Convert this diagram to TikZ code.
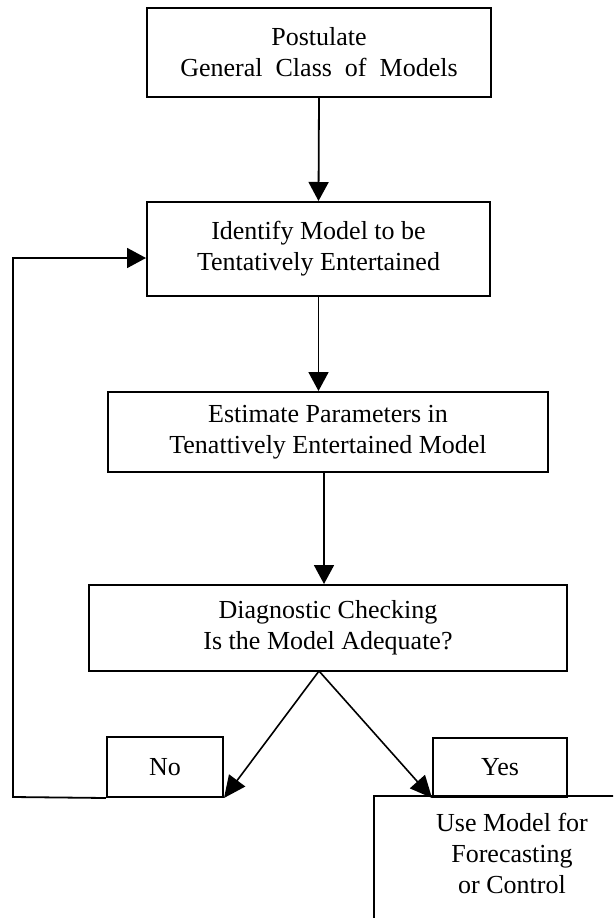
\documentclass[tikz,border=0pt]{standalone}
\usepackage{fontspec}
\setmainfont{Liberation Serif}
\usetikzlibrary{arrows.meta,calc}
\begin{document}
\begin{tikzpicture}[x=1pt,y=-1pt,
  box/.style={draw,line width=2pt,rectangle,inner sep=0pt,align=center,
    font=\fontsize{26}{31}\selectfont},
  conn/.style={line width=1.8pt},
  arr/.style={conn,-{Triangle[length=19pt,width=20pt]}},
  darr/.style={line width=1.6pt,-{Triangle[length=22pt,width=20pt]}}]
\useasboundingbox (0,0) rectangle (613,918);
\clip (0,0) rectangle (613,918);
\fill[white] (0,0) rectangle (613,918);

\node[box,minimum width=344pt,minimum height=89pt] (b1) at (319,52.5)
  {Postulate\\General\ \ Class\ \ of\ \ Models};
\node[box,minimum width=343pt,minimum height=94pt] (b2) at (318.5,249)
  {Identify Model to be\\Tentatively Entertained};
\node[box,minimum width=440pt,minimum height=80pt] (b3) at (328,432)
  {Estimate Parameters in\\Tenattively Entertained Model};
\node[box,minimum width=478pt,minimum height=86pt] (b4) at (328,628)
  {Diagnostic Checking\\Is the Model Adequate?};
\node[box,minimum width=116pt,minimum height=60pt] (no) at (165,767) {No};
\node[box,minimum width=134pt,minimum height=59pt] (yes) at (500,767.5) {Yes};
\node[box,draw=none,minimum width=274pt,minimum height=112pt] (use) at (512,853)
  {Use Model for\\Forecasting\\or Control};
\draw[line width=2pt] ($(use.north east)+(10,0)$) -- (use.north west) -- ($(use.south west)+(0,20)$);

\draw[arr] (b1.south) -- (b2.north);
\draw[arr] (b2.south) -- (b2.south |- b3.north);
\draw[arr] ($(b3.south)+(-4,0)$) -- ($(b4.north)+(-4,0)$);

\coordinate (split) at (319,671);
\draw[darr] (split) -- (no.south east);
\draw[darr] (split) -- (yes.south west);

\coordinate (fbl) at (13,797);
\coordinate (fbt) at (13,258);
\draw[arr] (no.south west) -- (fbl) -- (fbt) -- (fbt -| b2.west);
\end{tikzpicture}
\end{document}
